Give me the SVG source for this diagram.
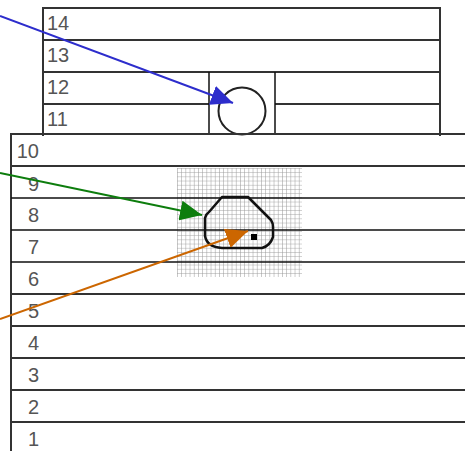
<svg xmlns="http://www.w3.org/2000/svg" width="465" height="451" viewBox="0 0 465 451">
  <defs>
    <style>
      .row { stroke: #333; stroke-width: 2; fill: none; }
      .thin { stroke: #111; stroke-width: 1.5; fill: none; }
      .lbl { font-family: "Liberation Sans", Arial, sans-serif; font-size: 20px; fill: #555; }
      .lblr { font-family: "Liberation Sans", Arial, sans-serif; font-size: 20px; fill: #555; text-anchor: end; }
    </style>
    <pattern id="grid" x="177" y="168" width="4.2" height="4.2" patternUnits="userSpaceOnUse">
      <path d="M0,0 V4.2 M0,0 H4.2" stroke="#999" stroke-width="1" fill="none"/>
    </pattern>
    <marker id="ab" markerUnits="userSpaceOnUse" markerWidth="24" markerHeight="20" viewBox="0 0 24 20" refX="22" refY="10" orient="auto">
      <path d="M0,0 L22,10 L0,20 Z" fill="#2d2dcc"/>
    </marker>
    <marker id="ag" markerUnits="userSpaceOnUse" markerWidth="24" markerHeight="20" viewBox="0 0 24 20" refX="22" refY="10" orient="auto">
      <path d="M0,0 L22,10 L0,20 Z" fill="#0d7d0d"/>
    </marker>
    <marker id="ao" markerUnits="userSpaceOnUse" markerWidth="24" markerHeight="20" viewBox="0 0 24 20" refX="22" refY="10" orient="auto">
      <path d="M0,0 L22,10 L0,20 Z" fill="#cc6600"/>
    </marker>
  </defs>
  <rect width="465" height="451" fill="#fff"/>

  <g id="upper-block">
    <path class="row" d="M43,136 V8 H440 V136"/>
    <path class="row" d="M43,40 H440 M43,72 H440 M43,104 H209 M275,104 H440"/>
    <text class="lbl" x="47" y="30">14</text>
    <text class="lbl" x="47" y="62">13</text>
    <text class="lbl" x="47" y="94">12</text>
    <text class="lbl" x="47" y="126">11</text>
  </g>

  <g id="circle-node">
    <path class="thin" d="M209,72 V135 M275,72 V135"/>
    <circle cx="242" cy="111" r="23.5" fill="none" stroke="#222" stroke-width="2"/>
  </g>

  <g id="lower-block">
    <rect x="177" y="168" width="125" height="109" fill="url(#grid)"/>
    <path class="row" d="M11,451 V134 H465"/>
    <path class="row" d="M11,166 H465 M11,294 H465 M11,326 H465 M11,358 H465 M11,390 H465 M11,422 H465"/>
    <path class="thin" d="M11,198 H465 M11,230 H465 M11,262 H465"/>
    <text class="lblr" x="39" y="158">10</text>
    <text class="lblr" x="39" y="191">9</text>
    <text class="lblr" x="39" y="222">8</text>
    <text class="lblr" x="39" y="254">7</text>
    <text class="lblr" x="39" y="286">6</text>
    <text class="lblr" x="39" y="318">5</text>
    <text class="lblr" x="39" y="350">4</text>
    <text class="lblr" x="39" y="382">3</text>
    <text class="lblr" x="39" y="414">2</text>
    <text class="lblr" x="39" y="446">1</text>
  </g>

  <g id="shape-node">
    <path d="M222,197 H248 L271,220 Q273,223 273,227 V237 Q270,246 262,248 H222 Q207,247 205,236 V218 Q206,214 209,212 Z" fill="none" stroke="#111" stroke-width="2.5" stroke-linejoin="round"/>
    <rect x="251" y="234" width="6" height="6" fill="#000"/>
  </g>

  <g id="connectors" fill="none" stroke-width="2">
    <line x1="0" y1="16" x2="233" y2="103" stroke="#2d2dcc" marker-end="url(#ab)"/>
    <line x1="0" y1="173" x2="202" y2="215" stroke="#0d7d0d" marker-end="url(#ag)"/>
    <line x1="0" y1="319" x2="248" y2="231" stroke="#cc6600" marker-end="url(#ao)"/>
  </g>
</svg>
